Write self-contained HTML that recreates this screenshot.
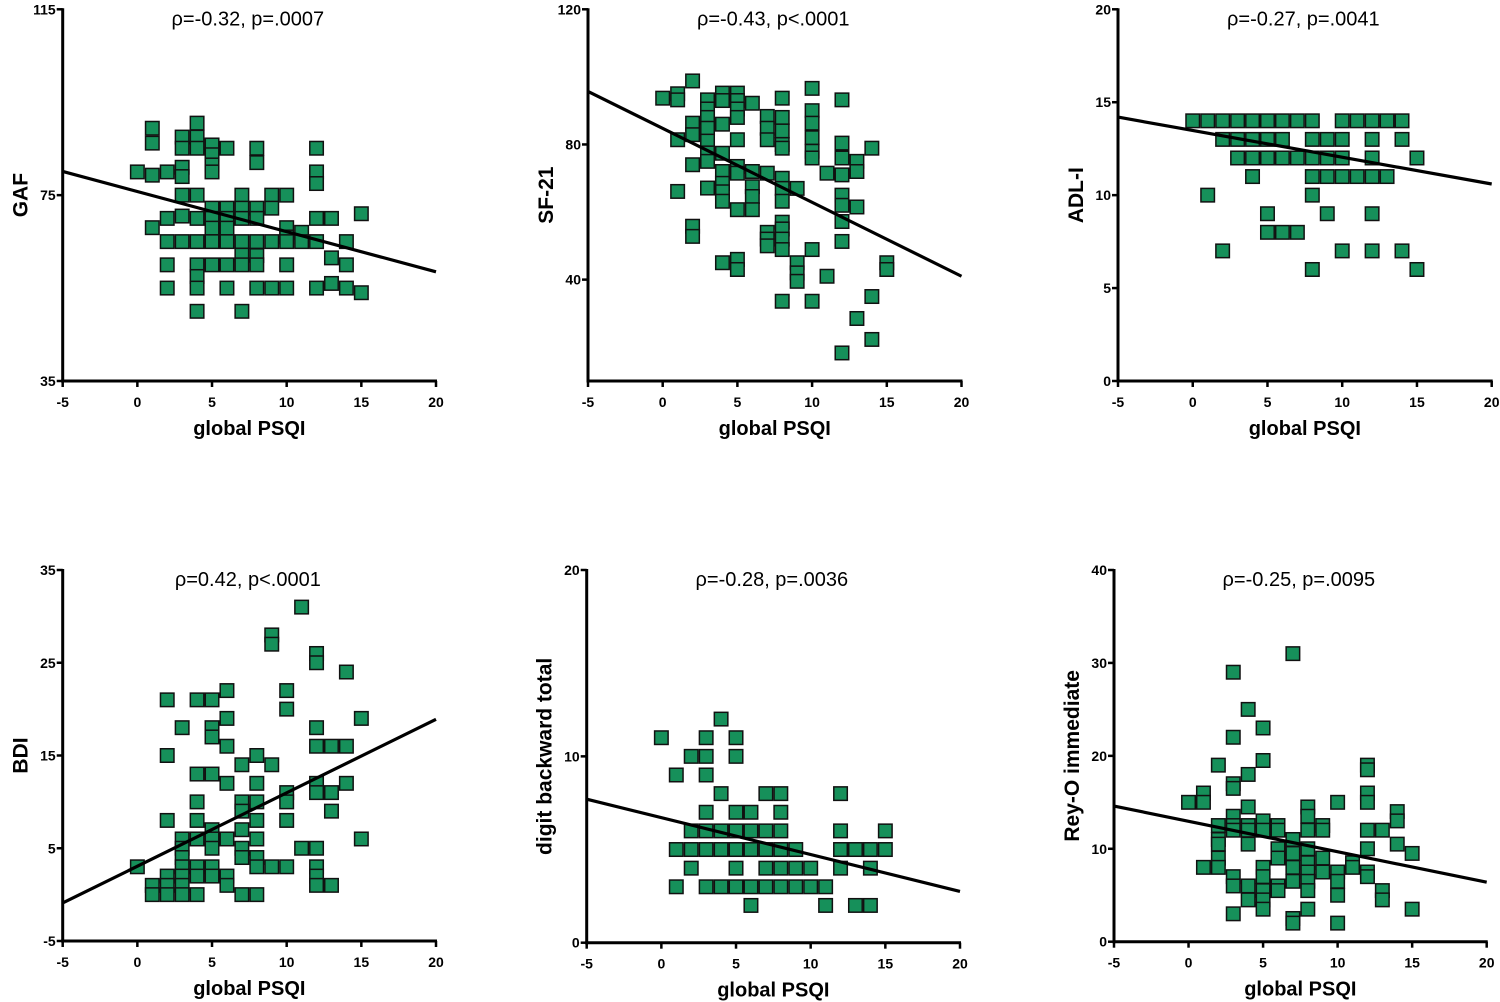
<!DOCTYPE html>
<html><head><meta charset="utf-8"><style>
html,body{margin:0;padding:0;background:#fff;}
svg{display:block;font-family:"Liberation Sans",Arial,sans-serif;}
.tick{font-size:14px;font-weight:bold;fill:#000;}
.xt{font-size:20px;font-weight:bold;fill:#000;}
.yt{font-size:21px;font-weight:bold;fill:#000;}
.rho{font-size:20px;fill:#000;}
</style></head><body>
<svg id="fig" width="1500" height="1002" viewBox="0 0 1500 1002" xmlns="http://www.w3.org/2000/svg"></svg>
<script>
const xTicks = [-5,0,5,10,15,20];
const gafPoints = [[0,80],[1,89.4],[1,86.2],[1,79.3],[1,68],[2,80],[2,70],[2,65],[2,60],[2,55],[3,87.5],[3,85.1],[3,81],[3,79],[3,75],[3,70.5],[3,65],[4,90.5],[4,87.5],[4,85.1],[4,75],[4,70],[4,65],[4,60],[4,57.5],[4,55],[4,50],[5,85.8],[5,83.7],[5,81.5],[5,80],[5,72.2],[5,70],[5,67.9],[5,65],[5,60],[6,85.1],[6,72.2],[6,70],[6,67.9],[6,65],[6,60],[6,55],[7,75],[7,72.2],[7,70],[7,65],[7,62.1],[7,60],[7,50],[8,85.1],[8,82],[8,72.2],[8,70],[8,65],[8,62],[8,60],[8,55],[9,75],[9,72.2],[9,65],[9,55],[10,75],[10,68],[10,66],[10,65],[10,60],[10,55],[11,67],[11,65],[12,85.1],[12,80],[12,77.5],[12,70],[12,65],[12,55],[13,70],[13,61.5],[13,56],[14,65],[14,60],[14,55],[15,71],[15,54]];
const gafFit = [[-5,80.1],[20,58.5]];
const gafTicks = [35,75,115];
const sfPoints = [[0,93.7],[1,95],[1,93.2],[1,81.4],[1,66.1],[2,98.8],[2,86.3],[2,82.9],[2,74],[2,55.8],[2,52.8],[3,93.2],[3,90.5],[3,88],[3,84.8],[3,81],[3,77.5],[3,75],[3,67.1],[4,95.2],[4,93],[4,86],[4,77.4],[4,72],[4,68.5],[4,66],[4,63.2],[4,45],[5,95.2],[5,93],[5,90.5],[5,88],[5,81.4],[5,73.5],[5,71.5],[5,60.7],[5,46],[5,43],[6,92.2],[6,72],[6,67.5],[6,64.6],[6,60.7],[7,88.3],[7,84.8],[7,81.4],[7,71.5],[7,54],[7,52],[7,50],[8,93.7],[8,88],[8,84],[8,80],[8,78.9],[8,70],[8,67],[8,63.2],[8,57],[8,55],[8,52],[8,48.9],[8,33.6],[9,67],[9,45],[9,42],[9,39.5],[10,96.6],[10,90],[10,86.3],[10,82],[10,78],[10,76],[10,48.9],[10,33.6],[11,71.5],[11,41],[12,93.2],[12,80.4],[12,76],[12,71],[12,65],[12,62],[12,57.2],[12,51.3],[12,18.3],[13,75],[13,72],[13,61.5],[13,28.5],[14,78.9],[14,35],[14,22.3],[15,45],[15,43]];
const sfFit = [[-5,95.7],[20,41]];
const sfTicks = [40,80,120];
const adlPoints = [[0,14],[1,14],[2,14],[3,14],[4,14],[5,14],[6,14],[7,14],[8,14],[10,14],[11,14],[12,14],[13,14],[14,14],[2,13],[3,13],[4,13],[5,13],[6,13],[8,13],[9,13],[10,13],[12,13],[14,13],[3,12],[4,12],[5,12],[6,12],[7,12],[8,12],[9,12],[10,12],[12,12],[15,12],[4,11],[8,11],[9,11],[10,11],[11,11],[12,11],[13,11],[1,10],[8,10],[5,9],[9,9],[12,9],[5,8],[6,8],[7,8],[2,7],[10,7],[12,7],[14,7],[8,6],[15,6]];
const adlFit = [[-5,14.2],[20,10.6]];
const adlTicks = [0,5,10,15,20];
const bdiPoints = [[0,3],[1,1],[1,0],[2,21],[2,15],[2,8],[2,2],[2,1],[2,0],[3,18],[3,6],[3,5],[3,4],[3,3],[3,2],[3,1],[3,0],[4,21],[4,13],[4,10],[4,8],[4,6],[4,3],[4,2],[4,0],[5,21],[5,18],[5,17],[5,13],[5,7],[5,6],[5,5],[5,3],[5,2],[6,22],[6,19],[6,16],[6,12],[6,6],[6,2],[6,1],[7,14],[7,10],[7,9],[7,7],[7,5],[7,4],[7,0],[8,15],[8,12],[8,10],[8,8],[8,6],[8,4],[8,3],[8,0],[9,28],[9,27],[9,14],[9,3],[10,22],[10,20],[10,11],[10,10],[10,8],[10,3],[11,31],[11,5],[12,26],[12,25],[12,18],[12,16],[12,12],[12,11],[12,5],[12,3],[12,2],[12,1],[13,16],[13,11],[13,9],[13,1],[14,24],[14,16],[14,12],[15,19],[15,6]];
const bdiFit = [[-5,-0.9],[20,18.9]];
const bdiTicks = [-5,5,15,25,35];
const dbPoints = [[4,12],[0,11],[3,11],[5,11],[2,10],[3,10],[5,10],[1,9],[3,9],[4,8],[7,8],[8,8],[12,8],[3,7],[5,7],[6,7],[8,7],[2,6],[3,6],[4,6],[5,6],[6,6],[7,6],[8,6],[12,6],[15,6],[1,5],[2,5],[3,5],[4,5],[5,5],[6,5],[7,5],[8,5],[9,5],[12,5],[13,5],[14,5],[15,5],[2,4],[5,4],[7,4],[8,4],[9,4],[10,4],[12,4],[14,4],[1,3],[3,3],[4,3],[5,3],[6,3],[7,3],[8,3],[9,3],[10,3],[11,3],[6,2],[11,2],[13,2],[14,2]];
const dbFit = [[-5,7.7],[20,2.75]];
const dbTicks = [0,10,20];
const reyPoints = [[0,15],[1,16],[1,15],[1,8],[2,19],[2,12.5],[2,11],[2,10.5],[2,9],[2,8],[3,29],[3,22],[3,17],[3,16.5],[3,13.5],[3,12.5],[3,12],[3,7],[3,6],[3,3],[4,25],[4,18],[4,14.5],[4,12.5],[4,12],[4,10.5],[4,6],[4,4.5],[5,23],[5,19.5],[5,13],[5,12],[5,8],[5,7],[5,5.5],[5,4.5],[5,3.5],[6,12.5],[6,12],[6,10],[6,9],[6,6],[6,5.5],[7,31],[7,11],[7,9.5],[7,8],[7,6.5],[7,2.5],[7,2],[8,14.5],[8,13.5],[8,12],[8,10],[8,8.5],[8,7.5],[8,6.5],[8,5.5],[8,3.5],[9,12.5],[9,12],[9,9],[9,7.5],[10,15],[10,7.5],[10,6.5],[10,5],[10,2],[11,8.5],[11,8],[12,19],[12,18.5],[12,16],[12,15],[12,12],[12,10],[12,7.5],[12,7],[13,12],[13,5.5],[13,4.5],[14,14],[14,13],[14,10.5],[15,9.5],[15,3.5]];
const reyFit = [[-5,14.6],[20,6.4]];
const reyTicks = [0,10,20,30,40];

const NS = 'http://www.w3.org/2000/svg';
const svg = document.getElementById('fig');
function mk(tag, attrs, parent){
  const e = document.createElementNS(NS, tag);
  for (const k in attrs) e.setAttribute(k, attrs[k]);
  (parent||svg).appendChild(e);
  return e;
}
const panels = [
  {key:'gaf', pts:gafPoints, fit:gafFit, ticks:gafTicks, x0:62.7, x1:436, yT:9.3, yB:381, vT:115, vB:35, title:'GAF', rho:'ρ=-0.32, p=.0007'},
  {key:'sf21', pts:sfPoints, fit:sfFit, ticks:sfTicks, x0:588, x1:961.5, yT:9.3, yB:381, vT:120, vB:10, title:'SF-21', rho:'ρ=-0.43, p<.0001'},
  {key:'adl', pts:adlPoints, fit:adlFit, ticks:adlTicks, x0:1118, x1:1491.7, yT:9.3, yB:381, vT:20, vB:0, title:'ADL-I', rho:'ρ=-0.27, p=.0041'},
  {key:'bdi', pts:bdiPoints, fit:bdiFit, ticks:bdiTicks, x0:62.7, x1:436, yT:570, yB:941, vT:35, vB:-5, title:'BDI', rho:'ρ=0.42, p<.0001'},
  {key:'digit', pts:dbPoints, fit:dbFit, ticks:dbTicks, x0:586.7, x1:960, yT:570, yB:942.7, vT:20, vB:0, title:'digit backward total', rho:'ρ=-0.28, p=.0036'},
  {key:'rey', pts:reyPoints, fit:reyFit, ticks:reyTicks, x0:1114, x1:1486.7, yT:570, yB:941.7, vT:40, vB:0, title:'Rey-O immediate', rho:'ρ=-0.25, p=.0095'}
];
panels.forEach(p => {
  const g = mk('g', {});
  
  
  const sx = v => p.x0 + (v - (-5)) / 25 * (p.x1 - p.x0);
  const sy = v => p.yB - (v - p.vB) / (p.vT - p.vB) * (p.yB - p.yT);
  const pg = mk('g', {}, g);
  
  
  p.pts.forEach(d => {
    const r = mk('rect', {x: sx(d[0]) - 6.75, y: sy(d[1]) - 6.75, width: 13.5, height: 13.5, fill: '#16905a', stroke: '#111', 'stroke-width': 1.5}, pg);
    
    
  });
  const ln = mk('line', {x1: sx(p.fit[0][0]), y1: sy(p.fit[0][1]), x2: sx(p.fit[1][0]), y2: sy(p.fit[1][1]), stroke: '#000', 'stroke-width': 3.2}, g);
  
  
  const ya = mk('line', {x1: p.x0, y1: p.yT - 1, x2: p.x0, y2: p.yB + 1.5, stroke: '#000', 'stroke-width': 3}, g);
  
  
  const xa = mk('line', {x1: p.x0 - 1.5, y1: p.yB, x2: p.x1 + 1, y2: p.yB, stroke: '#000', 'stroke-width': 3}, g);
  
  
  p.ticks.forEach(t => {
    const y = sy(t);
    mk('line', {x1: p.x0 - 6, y1: y, x2: p.x0, y2: y, stroke: '#000', 'stroke-width': 2.5}, g);
    const tx = mk('text', {x: p.x0 - 7, y: y + 5, 'text-anchor': 'end', class: 'tick'}, g);
    tx.textContent = t;
    
    
  });
  xTicks.forEach(t => {
    const x = sx(t);
    mk('line', {x1: x, y1: p.yB, x2: x, y2: p.yB + 6, stroke: '#000', 'stroke-width': 2.5}, g);
    const tx = mk('text', {x: x, y: p.yB + 26, 'text-anchor': 'middle', class: 'tick'}, g);
    tx.textContent = t;
    
    
  });
  const xt = mk('text', {x: (p.x0 + p.x1) / 2, y: p.yB + 54, 'text-anchor': 'middle', class: 'xt'}, g);
  xt.textContent = 'global PSQI';
  
  
  const cy = (p.yT + p.yB) / 2;
  const yt = mk('text', {x: 0, y: 0, 'text-anchor': 'middle', class: 'yt', transform: 'translate(' + (p.x0 - 35) + ',' + cy + ') rotate(-90)'}, g);
  yt.textContent = p.title;
  
  
  const rt = mk('text', {x: sx(7.4), y: p.yT + 16, 'text-anchor': 'middle', class: 'rho'}, g);
  rt.textContent = p.rho;
  
  
});
</script>
</body></html>
